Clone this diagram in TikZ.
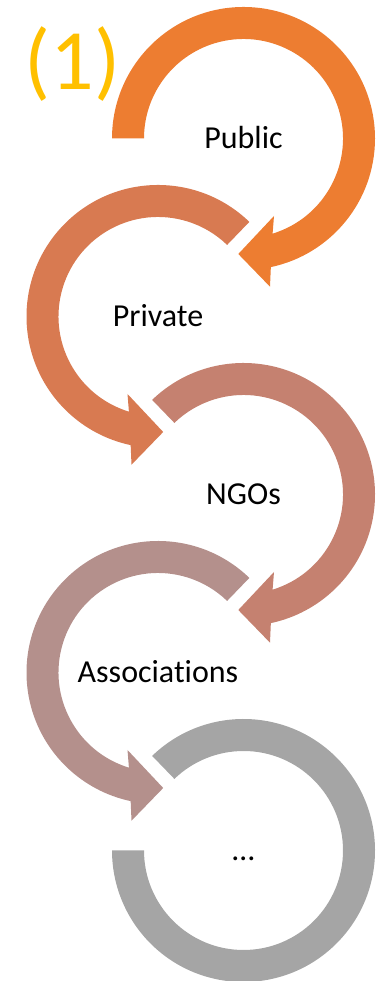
\documentclass[tikz,border=0pt]{standalone}
\usepackage{fontspec}
\setmainfont{Carlito}[Ligatures=NoCommon]
\usepackage{tikz}
\definecolor{pubc}{RGB}{237,125,49}
\definecolor{privc}{RGB}{216,122,81}
\definecolor{ngoc}{RGB}{197,129,112}
\definecolor{assc}{RGB}{180,144,140}
\definecolor{etcc}{RGB}{165,165,165}
\definecolor{numc}{RGB}{255,192,0}

\begin{document}
\begin{tikzpicture}[x=1pt,y=1pt,lbl/.style={anchor=base,yshift=-10pt,font=\fontsize{32}{38}\selectfont}]
		\useasboundingbox (0,0) rectangle (385,981);
		\coordinate(c1)at(243.5,842.5);
		\coordinate(c2)at(158,664.5);
		\coordinate(c3)at(243.5,486.5);
		\coordinate(c4)at(158,308.5);
		\coordinate(c5)at(243.5,130.5);
		
		% arrows going right (clockwise)
		\begin{scope}[shift={(c1)}]
			\fill[pubc] (180:131.5) arc[start angle=180,end angle=-78,radius=131.5] -- (26.5,-148.2) -- (-5.2,-115.5) -- (30.5,-77.5) -- (-73:99.5) arc[start angle=-73,end angle=180,radius=99.5] -- cycle;
		\end{scope}
		\begin{scope}[shift={(c3)}]
			\fill[ngoc] (134:131.5) arc[start angle=134,end angle=-78,radius=131.5] -- (26.5,-148.2) -- (-5.2,-115.5) -- (30.5,-77.5) -- (-73:99.5) arc[start angle=-73,end angle=134,radius=99.5] -- cycle;
		\end{scope}
		% arrows going left
		\begin{scope}[shift={(c2)}]
			\fill[privc] (46:131.5) arc[start angle=46,end angle=258,radius=131.5] -- (-26.5,-148.2) -- (5.2,-115.5) -- (-30.5,-77.5) -- (253:99.5) arc[start angle=253,end angle=46,radius=99.5] -- cycle;
		\end{scope}
		\begin{scope}[shift={(c4)}]
			\fill[assc] (46:131.5) arc[start angle=46,end angle=258,radius=131.5] -- (-26.5,-148.2) -- (5.2,-115.5) -- (-30.5,-77.5) -- (253:99.5) arc[start angle=253,end angle=46,radius=99.5] -- cycle;
		\end{scope}
		% last one, no head
		\begin{scope}[shift={(c5)}]
			\fill[etcc] (134:131.5) arc[start angle=134,end angle=-180,radius=131.5] -- (-180:99.5) arc[start angle=-180,end angle=134,radius=99.5] -- cycle;
		\end{scope}
		
		\node[lbl](pub)at(c1) {Public};
		\node[lbl](priv)at(c2) {Private};
		\node[lbl](ngo)at(c3) {NGOs};
		\node[lbl](assoc)at(c4) {Associations};
		\node[lbl](etc)at(c5) {…};
		\node[anchor=base,text=numc,font=\fontsize{86}{100}\selectfont](num)at(72.5,891.5) {(1)};
	\end{tikzpicture}
\end{document}
